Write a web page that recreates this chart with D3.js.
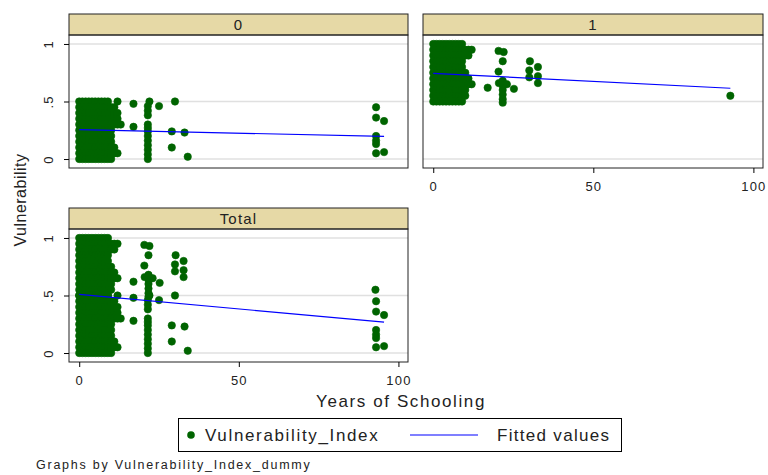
<!DOCTYPE html>
<html>
<head>
<meta charset="utf-8">
<script src="https://cdn.jsdelivr.net/npm/d3@7"></script>
<style>
  body { margin: 0; background: #fff; }
  svg { display: block; font-family: "Liberation Sans", Arial, sans-serif; }
</style>
</head>
<body>
<svg id="chart"></svg>
<script>
// Tick values and labels
const xTicks = [0, 50, 100];
const yTicks = [0, 0.5, 1];
const yTickLabels = ["0", ".5", "1"];

// Dense cloud, read row by row: [vulnerability, last year of schooling covered]
const cloudRows0 = [[0.50, 9], [0.45, 11], [0.40, 12], [0.35, 12], [0.30, 13], [0.25, 10],
                    [0.20, 10], [0.15, 10], [0.10, 11], [0.05, 12], [0.00, 10]];
const cloudRows1 = [[1.00, 9], [0.95, 12], [0.90, 11], [0.85, 9], [0.80, 9], [0.75, 10],
                    [0.70, 11], [0.65, 12], [0.60, 10], [0.55, 10], [0.50, 9]];

// Scattered points outside the cloud: [years, vulnerability]
const outliers0 = [[12, 0.5], [17, 0.48], [22, 0.5], [21.5, 0.46], [21.5, 0.42], [21.5, 0.38],
  [25, 0.46], [30, 0.5], [17, 0.28], [21.5, 0.3], [21.5, 0.27], [21.5, 0.24],
  [21.5, 0.2], [21.5, 0.16], [21.5, 0.12], [21.5, 0.08], [21.5, 0.04], [21.5, 0.0],
  [29, 0.24], [29, 0.1], [33, 0.23], [34, 0.02],
  [93, 0.45], [93, 0.36], [95.5, 0.33], [93, 0.2], [93, 0.16], [93, 0.13], [93, 0.05], [95.5, 0.06]];
const outliers1 = [[20.4, 0.94], [22, 0.93], [21.7, 0.85], [20.4, 0.76], [21.7, 0.68],
  [21.7, 0.64], [21.7, 0.6], [21.7, 0.56], [21.7, 0.52], [21.7, 0.49], [20.5, 0.66],
  [23, 0.65], [17, 0.62], [25.2, 0.61], [30.2, 0.85], [32.7, 0.8], [30, 0.77], [30, 0.71],
  [32.7, 0.72], [32.7, 0.66], [92.8, 0.55]];

// Fitted values (linear fit ends)
const fitYears0 = [0, 95.5], fitValues0 = [0.255, 0.197];
const fitYears1 = [0, 92.8], fitValues1 = [0.745, 0.615];
const fitYearsT = [0, 95.5], fitValuesT = [0.51, 0.268];

const W = 768, H = 475;
const green = "#006400", blue = "#0000ff";

const svg = d3.select("#chart").attr("width", W).attr("height", H);

function cloudPoints(rows) {
  const pts = [];
  rows.forEach(([v, maxYr]) => {
    for (let yr = 0; yr <= maxYr; yr++) pts.push([yr, v]);
  });
  return pts;
}

const points0 = cloudPoints(cloudRows0).concat(outliers0);
const points1 = cloudPoints(cloudRows1).concat(outliers1);

const panels = [
  { label: "0", left: 69, right: 408, top: 14, showX: false, showY: true,
    points: points0, fx: fitYears0, fy: fitValues0 },
  { label: "1", left: 423, right: 763, top: 14, showX: true, showY: false,
    points: points1, fx: fitYears1, fy: fitValues1 },
  { label: "Total", left: 69, right: 408, top: 208, showX: true, showY: true,
    points: points0.concat(points1), fx: fitYearsT, fy: fitValuesT }
];

const headerH = 21, plotH = 133;

panels.forEach(p => {
  const plotTop = p.top + headerH, plotBottom = plotTop + plotH;
  const x = d3.scaleLinear().domain([-3.2, 103]).range([p.left, p.right]);
  const y = d3.scaleLinear().domain([-0.078, 1.078]).range([plotBottom, plotTop]);
  const g = svg.append("g");

  // header strip
  g.append("rect")
    .attr("x", p.left).attr("y", p.top)
    .attr("width", p.right - p.left).attr("height", headerH)
    .attr("fill", "#e6d9a6").attr("stroke", "#222");
  g.append("text")
    .attr("x", (p.left + p.right) / 2).attr("y", p.top + 16)
    .attr("text-anchor", "middle").attr("font-size", 15)
    .attr("letter-spacing", 1.2).attr("fill", "#222")
    .text(p.label);

  // gridlines
  g.selectAll(".grid").data(yTicks).enter().append("line")
    .attr("x1", p.left).attr("x2", p.right)
    .attr("y1", d => y(d)).attr("y2", d => y(d))
    .attr("stroke", "#e0e0e0").attr("stroke-width", 1.5);

  // scatter
  g.append("g")
    .selectAll("circle").data(p.points).enter().append("circle")
    .attr("cx", d => x(d[0])).attr("cy", d => y(d[1]))
    .attr("r", 3.7).attr("fill", green)
    .attr("stroke", green).attr("stroke-width", 0.6);

  // fitted line
  const line = d3.line().x(d => x(d[0])).y(d => y(d[1]));
  g.append("path")
    .datum(p.fx.map((v, i) => [v, p.fy[i]]))
    .attr("d", line).attr("fill", "none")
    .attr("stroke", blue).attr("stroke-width", 1.2);

  // frame
  g.append("rect")
    .attr("x", p.left).attr("y", plotTop)
    .attr("width", p.right - p.left).attr("height", plotH)
    .attr("fill", "none").attr("stroke", "#222");

  if (p.showY) {
    const ay = g.append("g")
      .attr("transform", `translate(${p.left},0)`)
      .call(d3.axisLeft(y).tickValues(yTicks).tickSize(5)
        .tickFormat((d, i) => yTickLabels[i]));
    ay.select(".domain").remove();
    ay.selectAll("text")
      .attr("x", null).attr("dy", null)
      .attr("transform", "translate(-16,0) rotate(-90)")
      .attr("text-anchor", "middle")
      .attr("font-size", 13).attr("letter-spacing", 1)
      .attr("font-family", "Liberation Sans, Arial, sans-serif")
      .attr("fill", "#222");
  }

  if (p.showX) {
    const ax = g.append("g")
      .attr("transform", `translate(0,${plotBottom})`)
      .call(d3.axisBottom(x).tickValues(xTicks).tickSize(5).tickPadding(9));
    ax.select(".domain").remove();
    ax.selectAll("text")
      .attr("font-size", 13).attr("letter-spacing", 1.2)
      .attr("font-family", "Liberation Sans, Arial, sans-serif")
      .attr("fill", "#222");
  }
});

// axis titles
svg.append("text")
  .attr("x", 401).attr("y", 407)
  .attr("text-anchor", "middle").attr("font-size", 17)
  .attr("letter-spacing", 1.6).attr("fill", "#222")
  .text("Years of Schooling");

svg.append("text")
  .attr("transform", "translate(26,200) rotate(-90)")
  .attr("text-anchor", "middle").attr("font-size", 16)
  .attr("letter-spacing", 0.5).attr("fill", "#222")
  .text("Vulnerability");

// legend
const lg = svg.append("g");
lg.append("rect")
  .attr("x", 178.5).attr("y", 418.5).attr("width", 443).attr("height", 33)
  .attr("fill", "#fff").attr("stroke", "#000");
lg.append("circle").attr("cx", 191).attr("cy", 435).attr("r", 3.8).attr("fill", green);
lg.append("text").attr("x", 205).attr("y", 441)
  .attr("font-size", 17).attr("letter-spacing", 1.65).attr("fill", "#222")
  .text("Vulnerability_Index");
lg.append("line").attr("x1", 410).attr("x2", 478).attr("y1", 435).attr("y2", 435)
  .attr("stroke", blue).attr("stroke-width", 1.2);
lg.append("text").attr("x", 497).attr("y", 441)
  .attr("font-size", 17).attr("letter-spacing", 1.3).attr("fill", "#222")
  .text("Fitted values");

// note
svg.append("text").attr("x", 36).attr("y", 469)
  .attr("font-size", 12.5).attr("letter-spacing", 1.75).attr("fill", "#222")
  .text("Graphs by Vulnerability_Index_dummy");
</script>
</body>
</html>
